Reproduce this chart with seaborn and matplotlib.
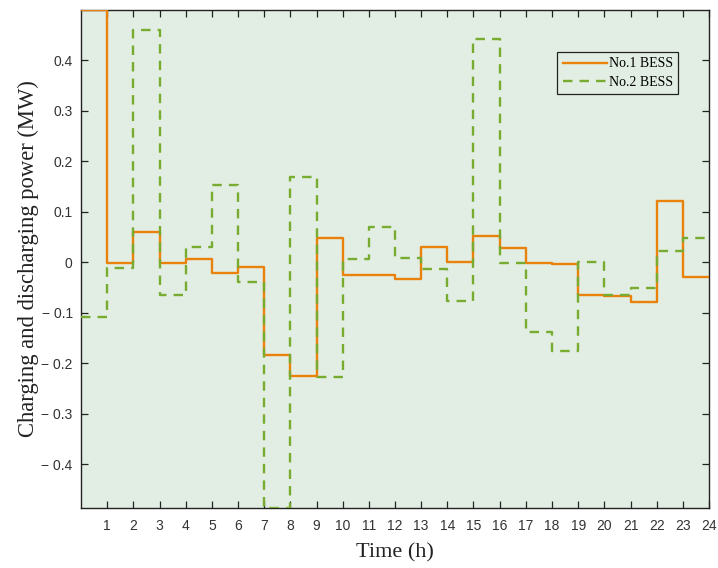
import numpy as np
import pandas as pd
import matplotlib
matplotlib.use("Agg")
import matplotlib.pyplot as plt
from matplotlib.ticker import FuncFormatter, FixedLocator
import seaborn as sns

# Hourly charging/discharging power of each battery (MW), one value per hour 0-1 ... 23-24
hours = list(range(0, 25))
bess1 = [0.500, -0.002, 0.061, -0.002, 0.007, -0.021, -0.010, -0.184, -0.225, 0.049,
         -0.026, -0.025, -0.034, 0.030, 0.000, 0.053, 0.028, -0.002, -0.004, -0.064,
         -0.066, -0.079, 0.121, -0.029]
bess2 = [-0.109, -0.012, 0.460, -0.065, 0.030, 0.154, -0.040, -0.487, 0.170, -0.227,
         0.007, 0.069, 0.008, -0.014, -0.077, 0.443, -0.001, -0.139, -0.176, 0.000,
         -0.065, -0.050, 0.022, 0.048]
series_names = ["No.1 BESS", "No.2 BESS"]
x_ticks = list(range(1, 25))
y_ticks = [-0.4, -0.3, -0.2, -0.1, 0.0, 0.1, 0.2, 0.3, 0.4]

# Repeat the last hour so the final step reaches hour 24
df1 = pd.DataFrame({"t": hours, "p": bess1 + [bess1[-1]]})
df2 = pd.DataFrame({"t": hours, "p": bess2 + [bess2[-1]]})

fig = plt.figure(figsize=(7.18, 5.68), dpi=100)
ax = fig.add_axes([81 / 718, 60 / 568, 628 / 718, 498 / 568])
ax.set_facecolor("#E2EEE3")

sns.lineplot(data=df1, x="t", y="p", ax=ax, color="#E8820C", linewidth=1.7,
             drawstyle="steps-post", label=series_names[0], zorder=3)
sns.lineplot(data=df2, x="t", y="p", ax=ax, color="#77AC30", linewidth=1.7,
             drawstyle="steps-post", label=series_names[1], zorder=4)
for ln in ax.get_lines()[1:]:
    ln.set_dashes((4, 3))

ax.set_xlim(0, 24)
ax.set_ylim(min(bess1 + bess2), max(bess1 + bess2))
ax.xaxis.set_major_locator(FixedLocator(x_ticks))
ax.yaxis.set_major_locator(FixedLocator(y_ticks))


def fmt(v, pos):
    if abs(v) < 1e-9:
        return "0"
    if v < 0:
        return "\u2212 %.1f" % abs(v)
    return "%.1f" % v


ax.yaxis.set_major_formatter(FuncFormatter(fmt))
ax.tick_params(direction="in", length=5, width=0.9, top=True, right=True,
               colors="#222222", labelcolor="#333333", labelsize=10, pad=8)
ax.tick_params(axis="y", pad=6)
for lab in ax.get_xticklabels() + ax.get_yticklabels():
    lab.set_fontfamily("Liberation Sans")
for sp in ax.spines.values():
    sp.set_color("#222222")
    sp.set_linewidth(1.0)

ax.set_xlabel("Time (h)", family="Liberation Serif", fontsize=16, color="#222222", labelpad=7)
ax.set_ylabel("Charging and discharging power (MW)", family="Liberation Serif",
              fontsize=16.3, color="#222222", labelpad=2)

leg = ax.legend(loc="upper right", bbox_to_anchor=(0.951, 0.916), borderaxespad=0,
                prop={"family": "Liberation Serif", "size": 10}, handlelength=3.2,
                handletextpad=0.1, labelspacing=0.4, borderpad=0.4,
                fancybox=False, framealpha=1, facecolor="#E2EEE3", edgecolor="#222222")
leg.get_frame().set_linewidth(0.9)

fig.savefig("out.png", dpi=100, facecolor="white")
